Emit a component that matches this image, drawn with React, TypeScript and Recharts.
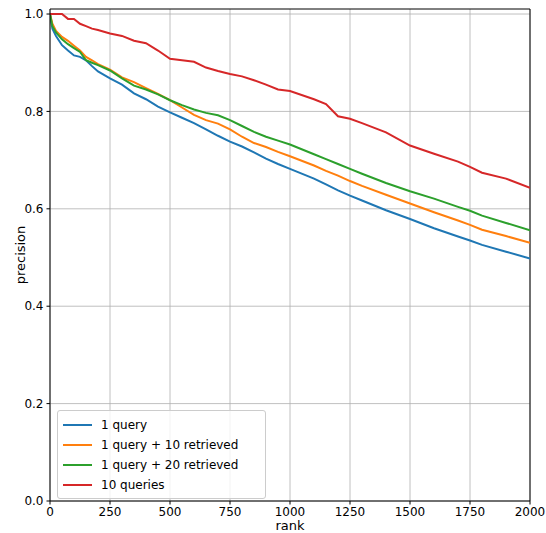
import React from "react";
import { LineChart, Line, XAxis, YAxis, CartesianGrid, Legend, ReferenceLine } from "recharts";

if (typeof document !== "undefined") {
  document.body.style.margin = "0";
}

const ranks = [0, 10, 25, 50, 75, 100, 125, 150, 175, 200, 250, 300, 350, 400, 450, 500, 550, 600, 650, 700, 750, 800, 850, 900, 950, 1000, 1100, 1150, 1200, 1250, 1300, 1400, 1500, 1600, 1700, 1750, 1800, 1900, 2000];

const oneQuery = [1.0, 0.97, 0.955, 0.936, 0.925, 0.915, 0.912, 0.905, 0.893, 0.882, 0.868, 0.855, 0.837, 0.825, 0.81, 0.798, 0.787, 0.776, 0.763, 0.75, 0.738, 0.728, 0.716, 0.703, 0.692, 0.682, 0.662, 0.65, 0.638, 0.627, 0.617, 0.597, 0.579, 0.56, 0.543, 0.535, 0.526, 0.512, 0.498];

const q10Retrieved = [1.0, 0.98, 0.965, 0.953, 0.945, 0.935, 0.925, 0.912, 0.905, 0.897, 0.886, 0.87, 0.86, 0.848, 0.836, 0.823, 0.808, 0.793, 0.782, 0.775, 0.763, 0.748, 0.735, 0.727, 0.717, 0.708, 0.689, 0.678, 0.668, 0.657, 0.647, 0.629, 0.611, 0.593, 0.576, 0.567, 0.557, 0.544, 0.53];

const q20Retrieved = [1.0, 0.975, 0.962, 0.948, 0.938, 0.93, 0.922, 0.905, 0.9, 0.895, 0.884, 0.868, 0.853, 0.845, 0.835, 0.823, 0.813, 0.804, 0.797, 0.792, 0.782, 0.77, 0.758, 0.748, 0.74, 0.732, 0.712, 0.702, 0.692, 0.682, 0.672, 0.653, 0.636, 0.621, 0.604, 0.596, 0.586, 0.571, 0.556];

const tenQueries = [1.0, 1.0, 1.0, 1.0, 0.99, 0.99, 0.98, 0.975, 0.97, 0.967, 0.96, 0.955, 0.945, 0.94, 0.925, 0.908, 0.905, 0.902, 0.89, 0.883, 0.877, 0.872, 0.864, 0.855, 0.845, 0.842, 0.825, 0.815, 0.79, 0.785, 0.776, 0.757, 0.73, 0.713, 0.697, 0.686, 0.674, 0.662, 0.643];

const xTicks = [0, 250, 500, 750, 1000, 1250, 1500, 1750, 2000];
const yTicks = [0, 0.2, 0.4, 0.6, 0.8, 1.0];
const Y_MAX = 1.0103;
const X_MAX = 2000;

const seriesNames = ["1 query", "1 query + 10 retrieved", "1 query + 20 retrieved", "10 queries"];
const seriesKeys = ["q1", "q1r10", "q1r20", "q10"];
const seriesColors = ["#1f77b4", "#ff7f0e", "#2ca02c", "#d62728"];

const data = ranks.map((r, i) => ({
  rank: r,
  q1: oneQuery[i],
  q1r10: q10Retrieved[i],
  q1r20: q20Retrieved[i],
  q10: tenQueries[i],
}));

const FONT = "DejaVu Sans, sans-serif";

const LegendBox = () => (
  <div
    style={{
      border: "1px solid #cccccc",
      borderRadius: 3,
      background: "rgba(255,255,255,0.8)",
      padding: "4px 8px 3px 5px",
      fontFamily: FONT,
      fontSize: 12,
      color: "#000",
      width: 194,
    }}
  >
    {seriesNames.map((n, i) => (
      <div key={n} style={{ display: "flex", alignItems: "center", height: 20 }}>
        <div style={{ width: 29, height: 2, background: seriesColors[i], marginRight: 9 }} />
        <span>{n}</span>
      </div>
    ))}
  </div>
);

export default function App() {
  return (
    <div style={{ width: 546, height: 533, background: "#fff" }}>
      <LineChart
        width={546}
        height={533}
        data={data}
        margin={{ top: 9, right: 16, bottom: 0, left: 0 }}
        style={{ fontFamily: FONT }}
      >
        <CartesianGrid stroke="#b0b0b0" strokeWidth={0.8} horizontalValues={yTicks} verticalValues={xTicks} />
        <XAxis
          dataKey="rank"
          type="number"
          domain={[0, X_MAX]}
          ticks={xTicks}
          height={32}
          tickSize={3.5}
          tickMargin={3}
          tick={{ fill: "#000", fontSize: 12, fontFamily: FONT }}
          axisLine={{ stroke: "#000", strokeWidth: 1 }}
          tickLine={{ stroke: "#000" }}
          label={{ value: "rank", position: "insideBottom", offset: 0, dy: -3, fill: "#000", fontSize: 13, fontFamily: FONT }}
          allowDataOverflow
        />
        <YAxis
          type="number"
          domain={[0, Y_MAX]}
          ticks={yTicks}
          width={50}
          tickSize={3.5}
          tickMargin={3}
          tickFormatter={(v: number) => v.toFixed(1)}
          tick={{ fill: "#000", fontSize: 12, fontFamily: FONT }}
          axisLine={{ stroke: "#000", strokeWidth: 1 }}
          tickLine={{ stroke: "#000" }}
          label={{ value: "precision", angle: -90, position: "insideLeft", offset: 20, fill: "#000", fontSize: 13, fontFamily: FONT, style: { textAnchor: "middle" } }}
          allowDataOverflow
        />
        <ReferenceLine y={Y_MAX} stroke="#000" strokeWidth={1} />
        <ReferenceLine x={X_MAX} stroke="#000" strokeWidth={1} />
        <Legend
          layout="vertical"
          verticalAlign="middle"
          align="center"
          content={() => <LegendBox />}
          wrapperStyle={{ position: "absolute", left: 57, top: 410, width: "auto", height: "auto" }}
        />
        {seriesKeys.map((k, i) => (
          <Line
            key={k}
            dataKey={k}
            name={seriesNames[i]}
            stroke={seriesColors[i]}
            strokeWidth={2}
            dot={false}
            type="linear"
            isAnimationActive={false}
          />
        ))}
      </LineChart>
    </div>
  );
}
